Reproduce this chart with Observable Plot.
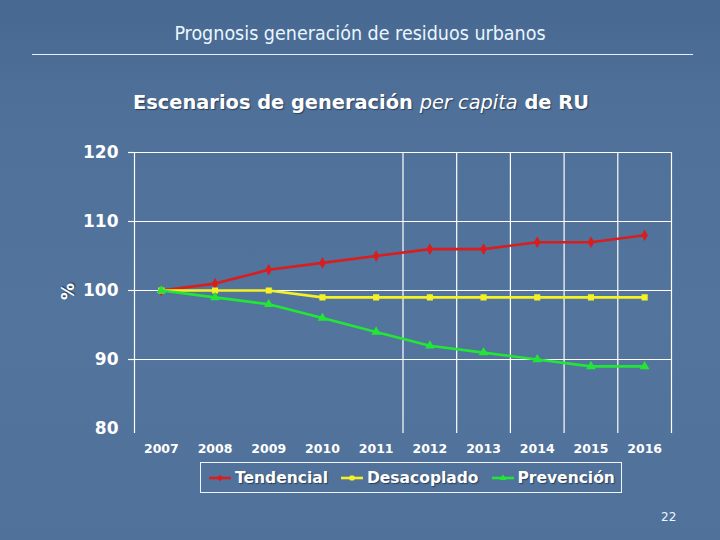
<!DOCTYPE html>
<html>
<head>
<meta charset="utf-8">
<script src="https://cdn.jsdelivr.net/npm/d3@7"></script>
<script src="https://cdn.jsdelivr.net/npm/@observablehq/plot@0.6"></script>
<style>
  html, body { margin: 0; padding: 0; }
  body {
    width: 720px; height: 540px; overflow: hidden; position: relative;
    background: linear-gradient(180deg, #476891 0%, #4e7099 20%, #52749d 60%, #4f719a 100%);
    font-family: "DejaVu Sans", sans-serif;
  }
  #title {
    position: absolute; left: 0; width: 720px; top: 22px; text-align: center;
    font-family: "DejaVu Sans Condensed", "DejaVu Sans", sans-serif;
    font-size: 19.5px; line-height: 24px; color: #eaf6ff;
  }
  #rule {
    position: absolute; left: 32px; width: 661px; top: 54px; height: 0;
    border-top: 1px solid #e8f0ff;
  }
  #subtitle {
    position: absolute; left: 0; width: 722px; top: 90px; text-align: center;
    font-size: 19.4px; line-height: 26px; font-weight: bold; color: #ffffff;
    text-shadow: 1px 1px 1px rgba(20,30,50,0.6);
  }
  #subtitle i { font-weight: normal; }
  #chart { position: absolute; left: 0; top: 130px; }
  #ylabel {
    position: absolute; left: 58px; top: 280px; width: 20px; height: 20px;
    transform: rotate(-90deg); font-size: 17px; font-weight: bold; color: #fff;
    text-shadow: 1px 1px 1px rgba(20,30,50,0.6);
  }
  #legend {
    position: absolute; left: 200px; top: 462px; width: 420px; height: 29px;
    border: 1px solid #f0f4ff; display: flex; align-items: center;
    font-size: 15.5px; font-weight: bold; color: #fff;
    text-shadow: 1px 1px 1px rgba(20,30,50,0.6);
  }
  .item { display: flex; align-items: center; margin-left: 7px; margin-right: 5px; }
  .item svg { margin-right: 3px; }
  #page {
    position: absolute; left: 661px; top: 510px; font-size: 12px; color: #eef6ff;
  }
</style>
</head>
<body>
<div id="title">Prognosis generación de residuos urbanos</div>
<div id="rule"></div>
<div id="subtitle">Escenarios de generación <i>per capita</i> de RU</div>
<div id="chart"></div>
<div id="ylabel">%</div>
<div id="legend"></div>
<div id="page">22</div>
<script>
const years = [2007, 2008, 2009, 2010, 2011, 2012, 2013, 2014, 2015, 2016];
const tendencial = [100, 101, 103, 104, 105, 106, 106, 107, 107, 108];
const desacoplado = [100, 100, 100, 99, 99, 99, 99, 99, 99, 99];
const prevencion = [100, 99, 98, 96, 94, 92, 91, 90, 89, 89];
const seriesNames = ["Tendencial", "Desacoplado", "Prevención"];
const seriesColors = ["#d81e1e", "#f4f226", "#22e636"];
const seriesSymbols = ["diamond", "square", "triangle"];
const yTicks = [80, 90, 100, 110, 120];
const gridY = [90, 100, 110, 120];
const gridX = [2006.5, 2011.5, 2012.5, 2013.5, 2014.5, 2015.5, 2016.5];

const seriesValues = [tendencial, desacoplado, prevencion];
const rows = [];
seriesNames.forEach((name, i) => {
  years.forEach((yr, j) => rows.push({ serie: name, year: yr, value: seriesValues[i][j] }));
});

const marks = [
  Plot.ruleY(gridY, { x1: 2006.5, x2: 2016.5, stroke: "#ffffff", strokeWidth: 1.2 }),
  Plot.ruleX(gridX, { y1: 80, y2: 120, stroke: "#ffffff", strokeWidth: 1.2 }),
  Plot.axisX({ ticks: gridX, tickSize: 5, tickFormat: () => "", label: null, stroke: "#ffffff", strokeWidth: 1.2 }),
  Plot.axisY({ ticks: gridY, tickSize: 6, tickFormat: () => "", label: null, stroke: "#ffffff", strokeWidth: 1.2 }),
  Plot.axisY({ ticks: yTicks, tickSize: 0, tickPadding: 16, label: null, fontSize: 17, fontWeight: "bold", fill: "#ffffff" }),
  Plot.axisX({ ticks: years, tickSize: 0, tickPadding: 16, label: null, tickFormat: d3.format("d"), fontSize: 12.5, fontWeight: "bold", fill: "#ffffff" })
];
seriesNames.forEach((name, i) => {
  const d = rows.filter(r => r.serie === name);
  marks.push(Plot.line(d, { x: "year", y: "value", stroke: seriesColors[i], strokeWidth: 2.6 }));
  marks.push(Plot.dot(d, { x: "year", y: "value", symbol: () => seriesSymbols[i], fill: seriesColors[i], stroke: seriesColors[i], r: 2.6 }));
});

const chart = Plot.plot({
  width: 720,
  height: 380,
  marginLeft: 134,
  marginRight: 49,
  marginTop: 22,
  marginBottom: 82,
  style: { background: "transparent", color: "#ffffff", fontFamily: "DejaVu Sans, sans-serif", overflow: "visible" },
  x: { domain: [2006.5, 2016.5], axis: null },
  y: { domain: [80, 120], axis: null },
  marks
});
document.getElementById("chart").appendChild(chart);

const symbolGen = { diamond: d3.symbolDiamond2, square: d3.symbolSquare2, triangle: d3.symbolTriangle2 };
const legend = document.getElementById("legend");
seriesNames.forEach((name, i) => {
  const item = document.createElement("div");
  item.className = "item";
  const sw = d3.create("svg").attr("width", 24).attr("height", 10);
  sw.append("line").attr("x1", 1).attr("x2", 23).attr("y1", 5).attr("y2", 5)
    .attr("stroke", seriesColors[i]).attr("stroke-width", 2.6);
  sw.append("path").attr("transform", "translate(12,5)")
    .attr("d", d3.symbol(symbolGen[seriesSymbols[i]], 20)())
    .attr("fill", seriesColors[i]).attr("stroke", seriesColors[i]);
  item.appendChild(sw.node());
  const t = document.createElement("span");
  t.textContent = name;
  item.appendChild(t);
  legend.appendChild(item);
});
</script>
</body>
</html>
